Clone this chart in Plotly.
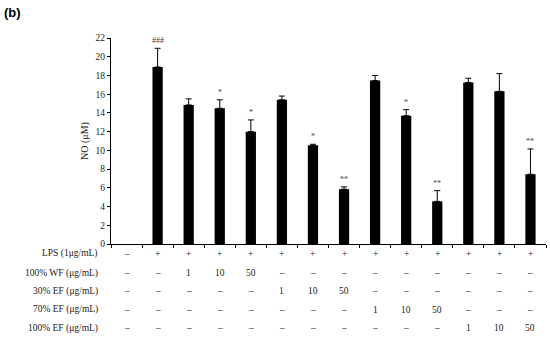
import plotly.graph_objects as go

# bar data (control group has no visible bar)
groups = [str(i) for i in range(14)]
no_values = [None, 18.9, 14.85, 14.5, 12.0, 15.4, 10.55, 5.85, 17.45, 13.7, 4.55, 17.25, 16.3, 7.45]
no_errors = [0, 2.0, 0.65, 0.9, 1.25, 0.4, 0.1, 0.25, 0.55, 0.65, 1.15, 0.45, 1.9, 2.7]
marks = ["", "###", "", "*", "*", "", "*", "**", "", "*", "**", "", "", "**"]

# treatment table under the chart
row_labels = ["LPS (1μg/mL)", "100% WF (μg/mL)", "30% EF (μg/mL)", "70% EF (μg/mL)", "100% EF (μg/mL)"]
row_cells = [
    ["–", "+", "+", "+", "+", "+", "+", "+", "+", "+", "+", "+", "+", "+"],
    ["–", "–", "1", "10", "50", "–", "–", "–", "–", "–", "–", "–", "–", "–"],
    ["–", "–", "–", "–", "–", "1", "10", "50", "–", "–", "–", "–", "–", "–"],
    ["–", "–", "–", "–", "–", "–", "–", "–", "1", "10", "50", "–", "–", "–"],
    ["–", "–", "–", "–", "–", "–", "–", "–", "–", "–", "–", "1", "10", "50"],
]
row_y = [-0.048, -0.141, -0.23, -0.32, -0.409]

serif = "Liberation Serif"
txt = "#222"

fig = go.Figure()
fig.add_trace(go.Bar(
    x=groups, y=no_values, width=0.33,
    marker=dict(color="black", line=dict(width=0)),
    error_y=dict(type="data", symmetric=False, array=no_errors,
                 arrayminus=[0] * len(no_errors),
                 color="black", thickness=1, width=3),
))

ann = []
for g, v, e, m in zip(groups, no_values, no_errors, marks):
    if m:
        ann.append(dict(x=g, y=v + e, xref="x", yref="y", text=m, showarrow=False,
                        yanchor="bottom", yshift=1, font=dict(family=serif, size=8, color="#444")))

for lab, cells, yy in zip(row_labels, row_cells, row_y):
    ann.append(dict(x=0, y=yy, xref="paper", yref="paper", text=lab, showarrow=False,
                    xanchor="right", xshift=-11, yanchor="middle",
                    font=dict(family=serif, size=9.5, color=txt)))
    for g, c in zip(groups, cells):
        ann.append(dict(x=g, y=yy, xref="x", yref="paper", text=c, showarrow=False,
                        yanchor="middle", font=dict(family=serif, size=9.5, color=txt)))

ann.append(dict(x=0, y=1, xref="paper", yref="paper", text="<b>(b)</b>", showarrow=False,
                xanchor="left", yanchor="top", xshift=-111 + 2, yshift=38 - 3,
                font=dict(family="Liberation Sans", size=13, color="black")))

fig.update_layout(
    width=550, height=337,
    margin=dict(l=111, r=4, t=38, b=93),
    plot_bgcolor="white", paper_bgcolor="white",
    showlegend=False,
    annotations=ann,
    font=dict(family=serif, size=8, color=txt),
)
fig.update_xaxes(type="category", showticklabels=False, tickson="boundaries",
                 ticks="outside", ticklen=3, tickcolor="black", showline=True,
                 linecolor="black", linewidth=1, showgrid=False, zeroline=False,
                 range=[-0.5, 13.5])
fig.update_yaxes(range=[0, 22], dtick=2, ticks="outside", ticklen=3, tickcolor="black",
                 showline=True, linecolor="black", linewidth=1, showgrid=False,
                 zeroline=False, tickfont=dict(family=serif, size=9.5, color=txt),
                 title=dict(text="NO (μM)", font=dict(family=serif, size=10, color=txt), standoff=5))

fig.write_html("out.html", config={"displayModeBar": False},
               post_script="document.body.style.margin='0';")
